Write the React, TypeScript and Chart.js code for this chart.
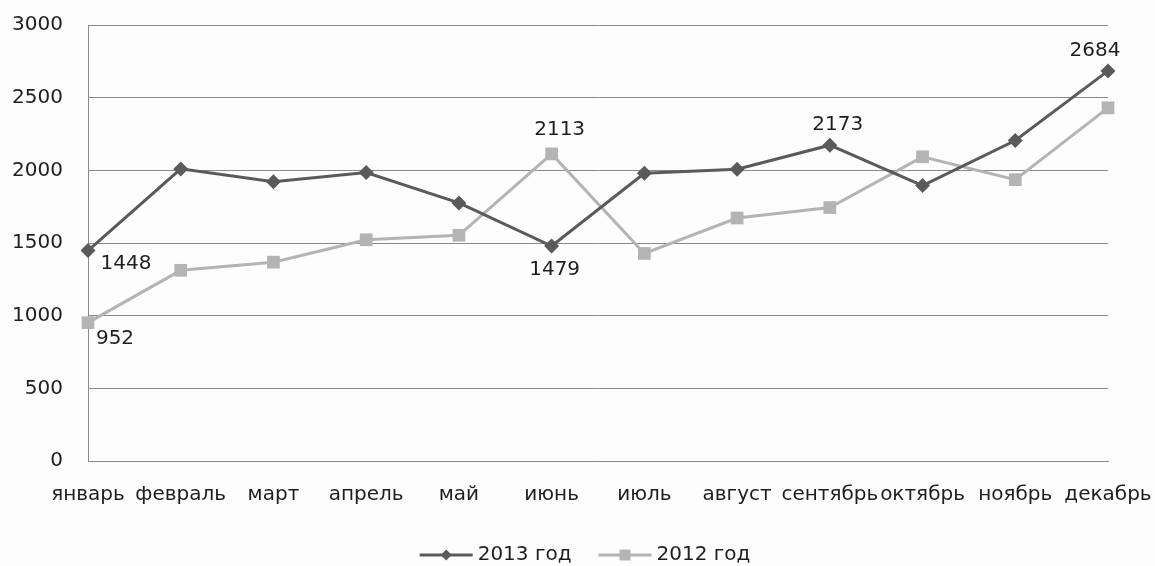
import React, { useEffect, useRef } from "react";
import { Chart, registerables } from "chart.js";

Chart.register(...registerables);

const months = [
  "январь", "февраль", "март", "апрель", "май", "июнь",
  "июль", "август", "сентябрь", "октябрь", "ноябрь", "декабрь",
];
const values2013 = [1448, 2010, 1922, 1985, 1776, 1479, 1980, 2008, 2173, 1895, 2205, 2684];
const values2012 = [952, 1312, 1368, 1522, 1553, 2113, 1428, 1672, 1744, 2093, 1936, 2430];
const seriesNames = ["2013 год", "2012 год"];
const yTicks = [0, 500, 1000, 1500, 2000, 2500, 3000];

const FONT = "'DejaVu Sans', sans-serif";
const FONT_SIZE = 20;
const TEXT_COLOR = "#1e1e1e";
const DARK = "#5a5a5a";
const LIGHT = "#b4b4b4";
const GRID = "#8a8a8a";

// Value labels: which point, and where its text sits relative to the point
const labelSpots = [
  { ds: 0, i: 0, dx: 38, dy: 13 },
  { ds: 1, i: 0, dx: 27, dy: 16 },
  { ds: 0, i: 5, dx: 3, dy: 24 },
  { ds: 1, i: 5, dx: 8, dy: -24 },
  { ds: 0, i: 8, dx: 8, dy: -20 },
  { ds: 0, i: 11, dx: -13, dy: -20 },
];

const valueLabels = {
  id: "valueLabels",
  afterDatasetsDraw(chart: any) {
    const ctx = chart.ctx;
    ctx.save();
    ctx.font = `${FONT_SIZE}px ${FONT}`;
    ctx.fillStyle = TEXT_COLOR;
    ctx.textAlign = "center";
    ctx.textBaseline = "middle";
    for (const s of labelSpots) {
      const el = chart.getDatasetMeta(s.ds).data[s.i];
      const v = chart.data.datasets[s.ds].data[s.i];
      ctx.fillText(String(v), el.x + s.dx, el.y + s.dy);
    }
    ctx.restore();
  },
};

function drawMarker(ctx: CanvasRenderingContext2D, style: string, x: number, y: number, r: number, color: string) {
  ctx.fillStyle = color;
  ctx.beginPath();
  if (style === "rectRot") {
    ctx.moveTo(x - r, y);
    ctx.lineTo(x, y - r);
    ctx.lineTo(x + r, y);
    ctx.lineTo(x, y + r);
    ctx.closePath();
  } else {
    ctx.rect(x - r, y - r, 2 * r, 2 * r);
  }
  ctx.fill();
}

// Legend drawn as a line sample with the series marker, like the plot lines
const lineLegend = {
  id: "lineLegend",
  afterDraw(chart: any) {
    const ctx = chart.ctx;
    ctx.save();
    ctx.font = `${FONT_SIZE}px ${FONT}`;
    const sampleLen = 53;
    const textGap = 5;
    const itemGap = 27;
    const ds = chart.data.datasets;
    const widths = ds.map((d: any) => ctx.measureText(d.label).width);
    const total = widths.reduce((a: number, w: number) => a + sampleLen + textGap + w, 0) + itemGap * (ds.length - 1);
    let x = 585 - total / 2;
    const y = 555;
    ds.forEach((d: any, k: number) => {
      ctx.strokeStyle = d.borderColor;
      ctx.lineWidth = 3;
      ctx.beginPath();
      ctx.moveTo(x, y);
      ctx.lineTo(x + sampleLen, y);
      ctx.stroke();
      drawMarker(ctx, d.pointStyle, x + sampleLen / 2, y, 5.5, d.borderColor);
      ctx.fillStyle = TEXT_COLOR;
      ctx.textAlign = "left";
      ctx.textBaseline = "middle";
      ctx.fillText(d.label, x + sampleLen + textGap, y);
      x += sampleLen + textGap + widths[k] + itemGap;
    });
    ctx.restore();
  },
};

export default function App() {
  const ref = useRef<HTMLCanvasElement | null>(null);

  useEffect(() => {
    if (!ref.current) return;
    const chart = new Chart(ref.current, {
      type: "line",
      data: {
        labels: months,
        datasets: [
          {
            label: seriesNames[0],
            data: values2013,
            borderColor: DARK,
            backgroundColor: DARK,
            borderWidth: 3,
            pointStyle: "rectRot",
            pointRadius: 7.5,
            pointBorderWidth: 0,
            tension: 0,
          },
          {
            label: seriesNames[1],
            data: values2012,
            borderColor: LIGHT,
            backgroundColor: LIGHT,
            borderWidth: 3,
            pointStyle: "rect",
            pointRadius: 9,
            pointBorderWidth: 0,
            tension: 0,
          },
        ],
      },
      options: {
        animation: false,
        responsive: false,
        layout: { padding: { top: 25, right: 47, bottom: 45, left: 0 } },
        plugins: {
          legend: { display: false },
          tooltip: { enabled: false },
        },
        scales: {
          x: {
            offset: false,
            grid: { display: false, drawTicks: true, tickLength: 22 },
            border: { display: true, color: GRID, width: 1 },
            ticks: {
              autoSkip: false,
              maxRotation: 0,
              minRotation: 0,
              padding: 0,
              color: TEXT_COLOR,
              font: { family: FONT, size: FONT_SIZE },
            },
            afterFit(scale: any) {
              scale.height = 60;
            },
          },
          y: {
            min: 0,
            max: 3000,
            afterBuildTicks(scale: any) {
              scale.ticks = yTicks.map((v) => ({ value: v }));
            },
            grid: {
              color: GRID,
              lineWidth: 1,
              drawTicks: true,
              tickLength: 25,
              tickColor: "rgba(0,0,0,0)",
            },
            border: { display: true, color: GRID, width: 1 },
            ticks: {
              padding: 0,
              color: TEXT_COLOR,
              font: { family: FONT, size: FONT_SIZE },
              callback: (v: any) => String(v),
            },
            afterFit(scale: any) {
              scale.width = 88;
            },
          },
        },
      },
      plugins: [valueLabels, lineLegend],
    });
    return () => chart.destroy();
  }, []);

  return (
    <div style={{ position: "fixed", left: 0, top: 0, width: 1155, height: 566, background: "#fdfdfd" }}>
      <canvas ref={ref} width={1155} height={566} style={{ display: "block" }} />
    </div>
  );
}
